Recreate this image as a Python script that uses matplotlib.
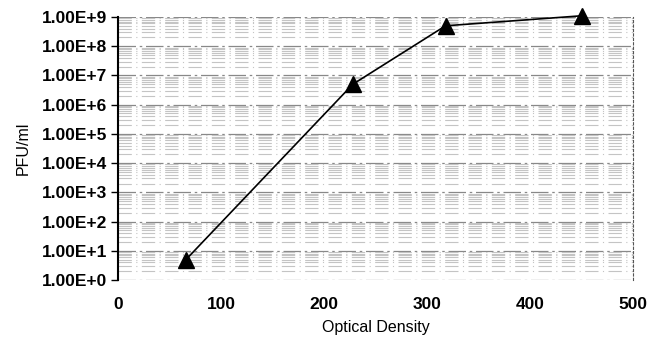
import numpy as np
import matplotlib
matplotlib.use('Agg')
import matplotlib.pyplot as plt
from matplotlib.ticker import LogLocator, FixedLocator

plt.rcParams['font.family'] = ['Liberation Sans', 'DejaVu Sans']

# data
optical_density = [66, 228, 318, 450]
pfu_per_ml = [5.0, 5.0e6, 5.0e8, 1.1e9]
y_ticks = [10.0 ** k for k in range(0, 10)]
y_labels = ['1.00E+%d' % k for k in range(0, 10)]
x_ticks = [0, 100, 200, 300, 400, 500]

fig = plt.figure(figsize=(6.5, 3.41), dpi=100)
ax = fig.add_axes([118 / 650, 1 - 280 / 341, (633 - 118) / 650, (280 - 17) / 341])

ax.set_yscale('log')
ax.set_xlim(0, 500)
ax.set_ylim(1, 1e9)

# scanned grey background: log grid lines
ax.yaxis.set_minor_locator(LogLocator(base=10, subs=np.arange(2, 10)))
ax.grid(True, which='major', axis='y', color='#888888', lw=0.9, ls=(0, (14, 3, 2, 3)))
ax.grid(True, which='minor', axis='y', color='#c4c4c4', lw=0.8, ls=(0, (12, 4, 1, 4)))
ax.set_axisbelow(True)

ax.plot(optical_density, pfu_per_ml, color='black', lw=1.2, marker='^',
        markersize=11, markerfacecolor='black', clip_on=False, zorder=5)

ax.yaxis.set_major_locator(FixedLocator(y_ticks))
ax.set_yticklabels(y_labels, fontsize=12.5, fontweight='bold')
ax.set_xticks(x_ticks)
ax.set_xticklabels([str(t) for t in x_ticks], fontsize=12.5, fontweight='bold')
ax.tick_params(axis='x', length=0, pad=12)
ax.tick_params(axis='y', which='major', length=5, width=1, direction='out', pad=3)
ax.tick_params(axis='y', which='minor', length=0)

for s in ['bottom', 'top']:
    ax.spines[s].set_visible(False)
ax.spines['left'].set_linewidth(1.5)
ax.spines['right'].set_linestyle((0, (2, 2)))
ax.spines['right'].set_color('#555555')

ax.set_xlabel('Optical Density', fontsize=11.5, labelpad=6)
ax.set_ylabel('PFU/ml', fontsize=11.5, labelpad=8)

fig.savefig('out.png', dpi=100)
